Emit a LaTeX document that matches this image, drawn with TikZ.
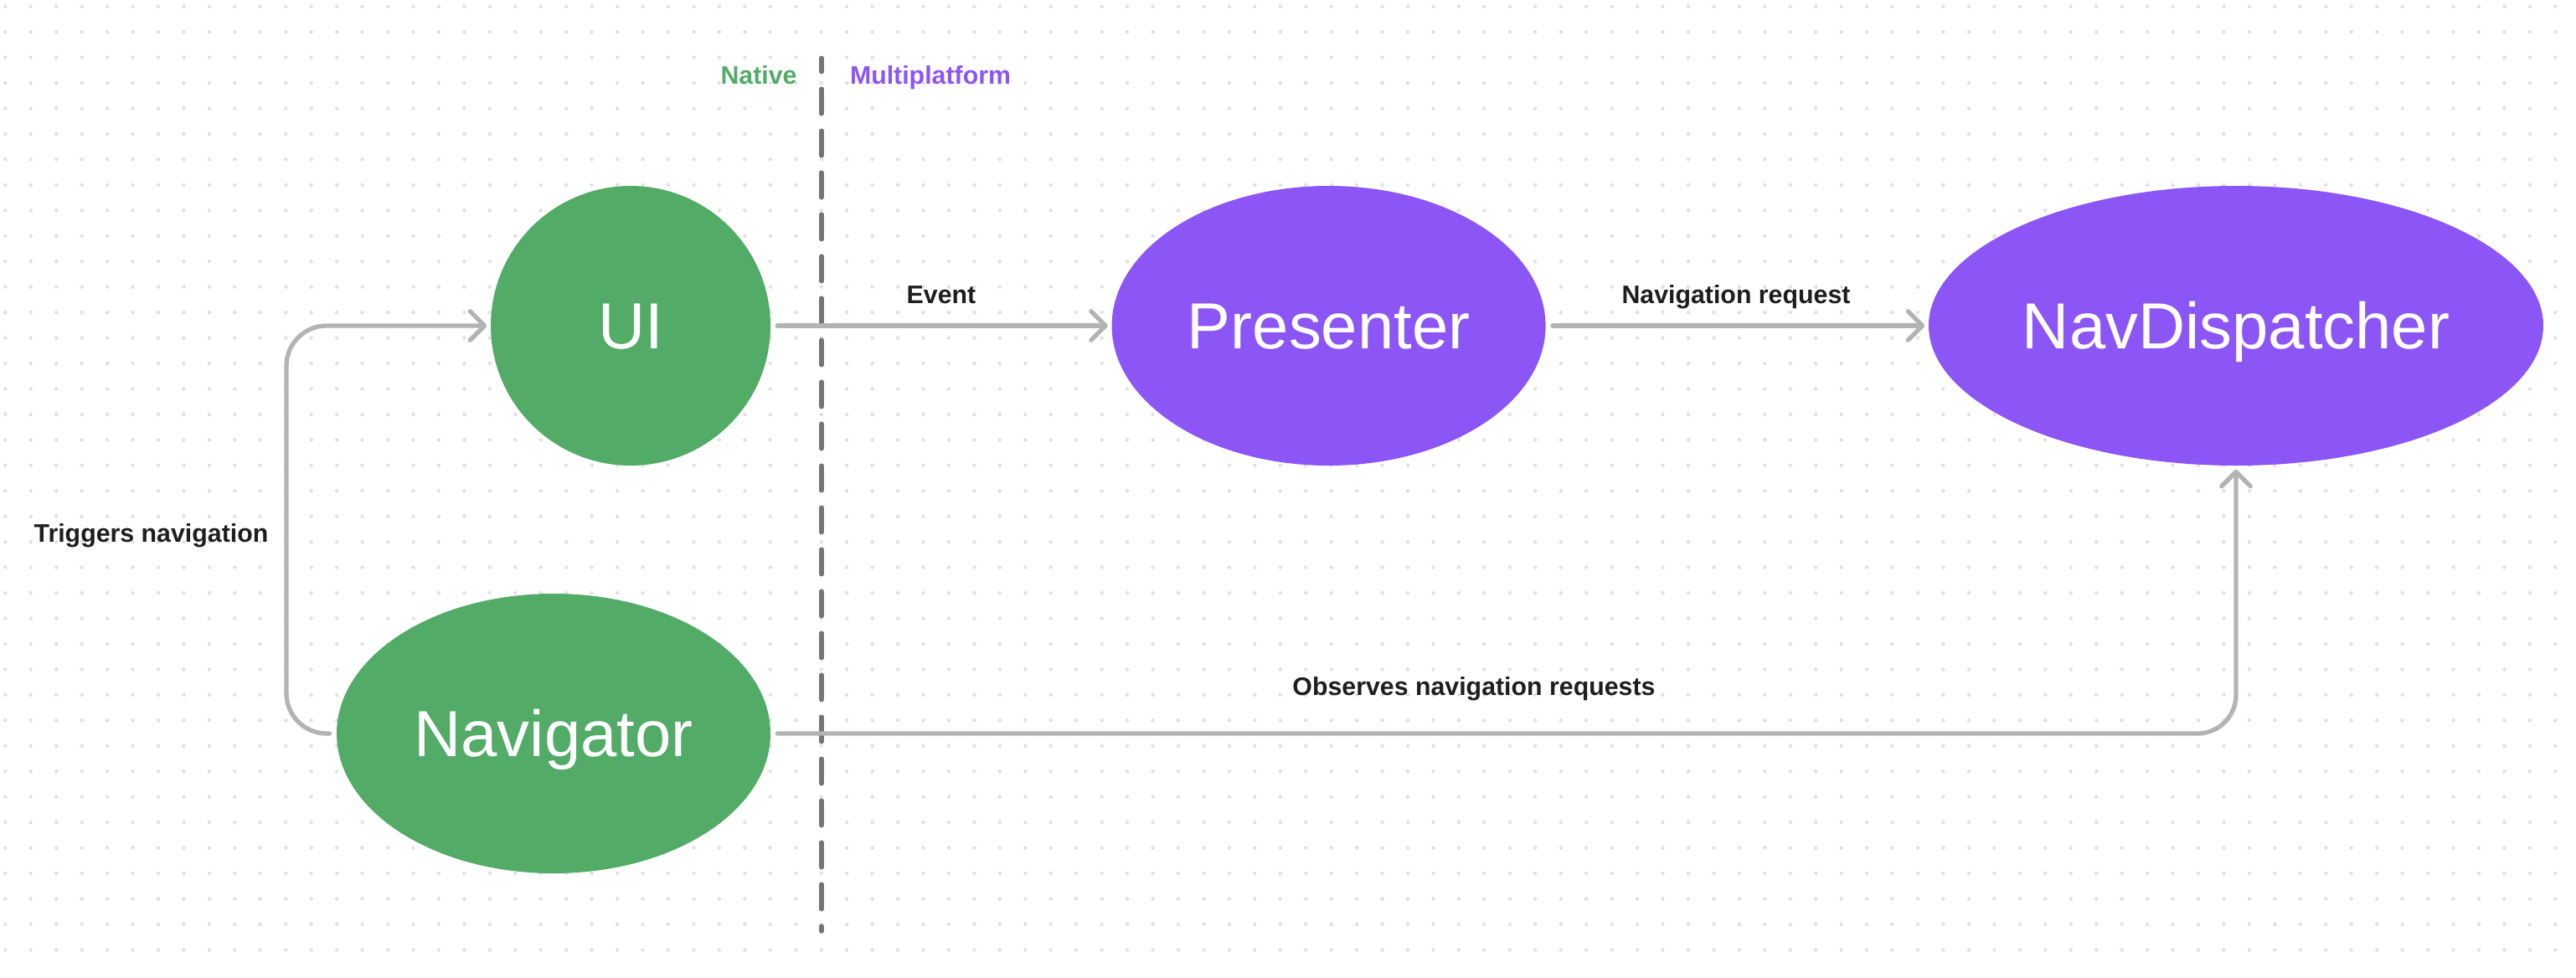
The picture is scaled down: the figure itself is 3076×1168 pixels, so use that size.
\documentclass[tikz,border=0pt]{standalone}
\usepackage{fontspec}
\setmainfont{Liberation Sans}
\usetikzlibrary{shapes.geometric,arrows.meta}

\definecolor{natgreen}{HTML}{52AB66}
\definecolor{mppurple}{HTML}{8C55F5}
\definecolor{linkgray}{HTML}{B3B3B3}
\definecolor{divgray}{HTML}{757575}
\definecolor{dotgray}{HTML}{E0E0E0}
\definecolor{inkdark}{HTML}{1E1E1E}

\begin{document}
\begin{tikzpicture}[x=0.25pt,y=-0.25pt,
  bubble/.style={ellipse, inner sep=0pt, outer sep=0pt, text=white,
    font=\fontsize{19.45}{23}\selectfont, text height=13.9pt, text depth=0pt},
  nativenode/.style={bubble, fill=natgreen},
  mpnode/.style={bubble, fill=mppurple},
  tag/.style={font=\fontsize{7.58}{9}\selectfont\bfseries, text=inkdark,
    inner sep=0pt, anchor=base},
  link/.style={draw=linkgray, line width=1.33pt, line cap=round, line join=round,
    -{Straight Barb[length=4.3pt,width=8.6pt,round]},
    shorten <=2.1pt, shorten >=1.2pt},
  divider/.style={draw=divgray, line width=1.375pt, line cap=round,
    dash pattern=on 7.375pt off 5.125pt, dash phase=3.3pt}
]
% canvas and page size
\fill[white] (0,0) rectangle (3076,1168);
\useasboundingbox (0,0) rectangle (3076,1168);

% dotted background grid
\foreach \i in {0,...,100}{
  \foreach \j in {0,...,37}{
    \fill[dotgray] (6.3+30.45*\i, 7.7+30.45*\j) circle (0.55pt);
  }
}

% native / multiplatform divider
\coordinate (divtop) at (981,69.4);
\coordinate (divbot) at (981,1112);
\draw[divider] (divtop) -- (divbot);
\node[tag, text=natgreen] (nativelbl) at (906,100) {Native};
\node[tag, text=mppurple] (mplbl) at (1111,100) {Multiplatform};

% components
\node[nativenode, circle, minimum size=83.5pt] (ui) at (753,389) {UI};
\node[mpnode, minimum width=129.5pt, minimum height=83.5pt] (presenter) at (1586.6,389) {Presenter};
\node[mpnode, minimum width=183.5pt, minimum height=83.5pt] (navdisp) at (2670,389) {NavDispatcher};
\node[nativenode, minimum width=129.5pt, minimum height=83.5pt] (navigator) at (661,876) {Navigator};

% flows
\draw[link] (ui) -- (presenter);
\draw[link] (presenter) -- (navdisp);
\draw[link, rounded corners=11.5pt] (navigator) -- (navigator -| navdisp) -- (navdisp);
\coordinate (trigbend) at (342,876);
\draw[link, rounded corners=12pt] (navigator) -- (trigbend) |- (ui);

% flow labels
\node[tag] (evlbl) at (1124,362.5) {Event};
\node[tag] (navreqlbl) at (2073,362.7) {Navigation request};
\node[tag] (triglbl) at (180.5,647.3) {Triggers navigation};
\node[tag] (obslbl) at (1760,830.7) {Observes navigation requests};
\end{tikzpicture}
\end{document}
